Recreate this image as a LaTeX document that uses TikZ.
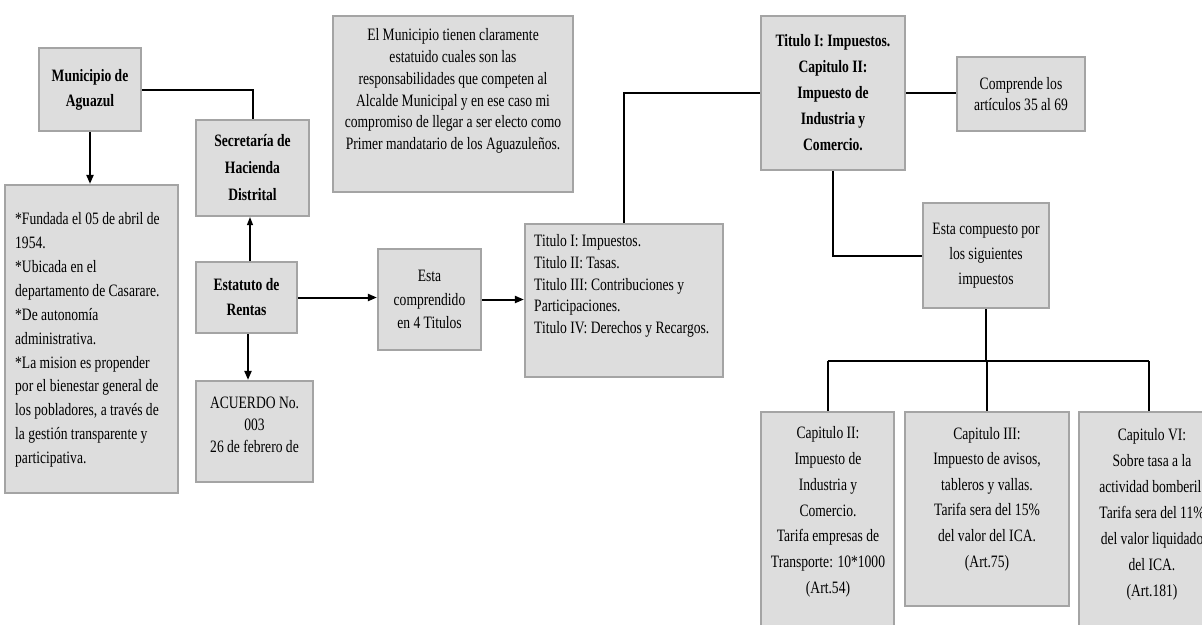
\documentclass[tikz,border=0pt]{standalone}
\usepackage{fontspec}
\setmainfont[FakeStretch=0.78]{Liberation Serif}
\usetikzlibrary{arrows.meta}
\definecolor{boxfill}{HTML}{DDDDDD}
\definecolor{boxborder}{HTML}{A4A4A4}
\tikzset{
  box/.style={draw=boxborder, fill=boxfill, line width=2.2pt, inner sep=0pt, align=center},
  txt/.style={inner sep=0pt, align=center},
  thk/.style={line width=2pt},
  thn/.style={line width=1.2pt},
  arr/.style={-{Triangle[length=9pt,width=7pt]}},
  sarr/.style={-{Triangle[length=8pt,width=6pt]}}
}
\newcommand{\fs}[1]{\fontsize{17.4}{#1}\selectfont}
\begin{document}
\begin{tikzpicture}[x=1pt,y=-1pt]
\useasboundingbox (0,0) rectangle (1202,624);
\fill[white] (0,0) rectangle (1202,624);

% boxes
\node[box, minimum width=102, minimum height=83, font=\bfseries\fs{25}] (mun) at (90,89.5) {Municipio de\\Aguazul};
\node[box, minimum width=113, minimum height=96, font=\bfseries\fs{27}] (sec) at (252.5,168) {Secretaría de\\Hacienda\\Distrital};
\node[box, minimum width=173, minimum height=308] (info) at (91.5,339) {};
\node[txt, align=left, anchor=west, font=\fs{23.9}] (infot) at (15,340) {*Fundada el 05 de abril de\\1954.\\*Ubicada en el\\departamento de Casarare.\\*De autonomía\\administrativa.\\*La mision es propender\\por el bienestar general de\\los pobladores, a través de\\la gestión transparente y\\participativa.};
\node[box, minimum width=101, minimum height=71, font=\bfseries\fs{25}] (est) at (246.5,297.5) {Estatuto de\\Rentas};
\node[box, minimum width=117, minimum height=101] (acu) at (254.5,431.5) {};
\node[txt, font=\fs{22}] (acut) at (254.5,425) {ACUERDO No.\\003\\26 de febrero de};
\node[box, minimum width=240, minimum height=176] (ei) at (453,104) {};
\node[txt, font=\fs{21.7}] (eit) at (453,91) {El Municipio tienen claramente\\estatuido cuales son las\\responsabilidades que competen al\\Alcalde Municipal y en ese caso mi\\compromiso de llegar a ser electo como\\Primer mandatario de los Aguazuleños.};
\node[box, minimum width=103, minimum height=101, font=\fs{23.5}] (ec) at (429.5,299.5) {Esta\\comprendido\\en 4 Titulos};
\node[box, minimum width=198, minimum height=153] (tit) at (624,300.5) {};
\node[txt, align=left, anchor=west, font=\fs{21.8}] (titt) at (534,286) {Titulo I: Impuestos.\\Titulo II: Tasas.\\Titulo III: Contribuciones y\\Participaciones.\\Titulo IV: Derechos y Recargos.};
\node[box, minimum width=144, minimum height=154, font=\bfseries\fs{26}] (tI) at (833,93) {Titulo I: Impuestos.\\Capitulo II:\\Impuesto de\\Industria y\\Comercio.};
\node[box, minimum width=128, minimum height=74, font=\fs{21.5}] (comp) at (1021,94) {Comprende los\\artículos 35 al 69};
\node[box, minimum width=126, minimum height=105, font=\fs{25}] (esc) at (986,255.5) {Esta compuesto por\\los siguientes\\impuestos};
\node[box, minimum width=133, minimum height=230] (c2) at (827.5,527) {};
\node[txt, font=\fs{25.8}] (c2t) at (828,512) {Capitulo II:\\Impuesto de\\Industria y\\Comercio.\\Tarifa empresas de\\Transporte: 10*1000\\(Art.54)};
\node[box, minimum width=164, minimum height=194] (c3) at (987,509) {};
\node[txt, font=\fs{25.6}] (c3t) at (987,499) {Capitulo III:\\Impuesto de avisos,\\tableros y vallas.\\Tarifa sera del 15\%\\del valor del ICA.\\(Art.75)};
\node[box, minimum width=146, minimum height=230] (c6) at (1152,527) {};
\node[txt, font=\fs{26}] (c6t) at (1152,514) {Capitulo VI:\\Sobre tasa a la\\actividad bomberil.\\Tarifa sera del 11\%\\del valor liquidado\\del ICA.\\(Art.181)};

% connectors
\draw[thk, arr] (mun.south) -- (info.north -| mun.south);
\draw[thk] (mun.east) -| (sec.north);
\draw[thn, sarr] ([xshift=3.5pt]est.north) -- ([xshift=3.5pt]est.north |- sec.south);
\draw[thk, arr] ([xshift=1.5pt]est.south) -- ([xshift=1.5pt]est.south |- acu.north);
\draw[thk, arr] (est.east) -- (est.east -| ec.west);
\draw[thk, arr] (ec.east) -- (ec.east -| tit.west);
\draw[thn] (tit.north) |- (tI.west);
\draw[thk] (tI.east) -- (tI.east -| comp.west);
\draw[thk] (tI.south) |- (esc.west);
\coordinate (j) at (986,361);
\coordinate (jl) at (827.5,361);
\coordinate (jr) at (1149,361);
\draw[thn] (esc.south) -- (j);
\draw[thk] (jl) -- (jr);
\draw[thk] (jl) -- (jl |- c2.north);
\draw[thk] (j) -- (j -| c3.north) -- (c3.north);
\draw[thn] (jr) -- (jr |- c6.north);
\end{tikzpicture}
\end{document}
